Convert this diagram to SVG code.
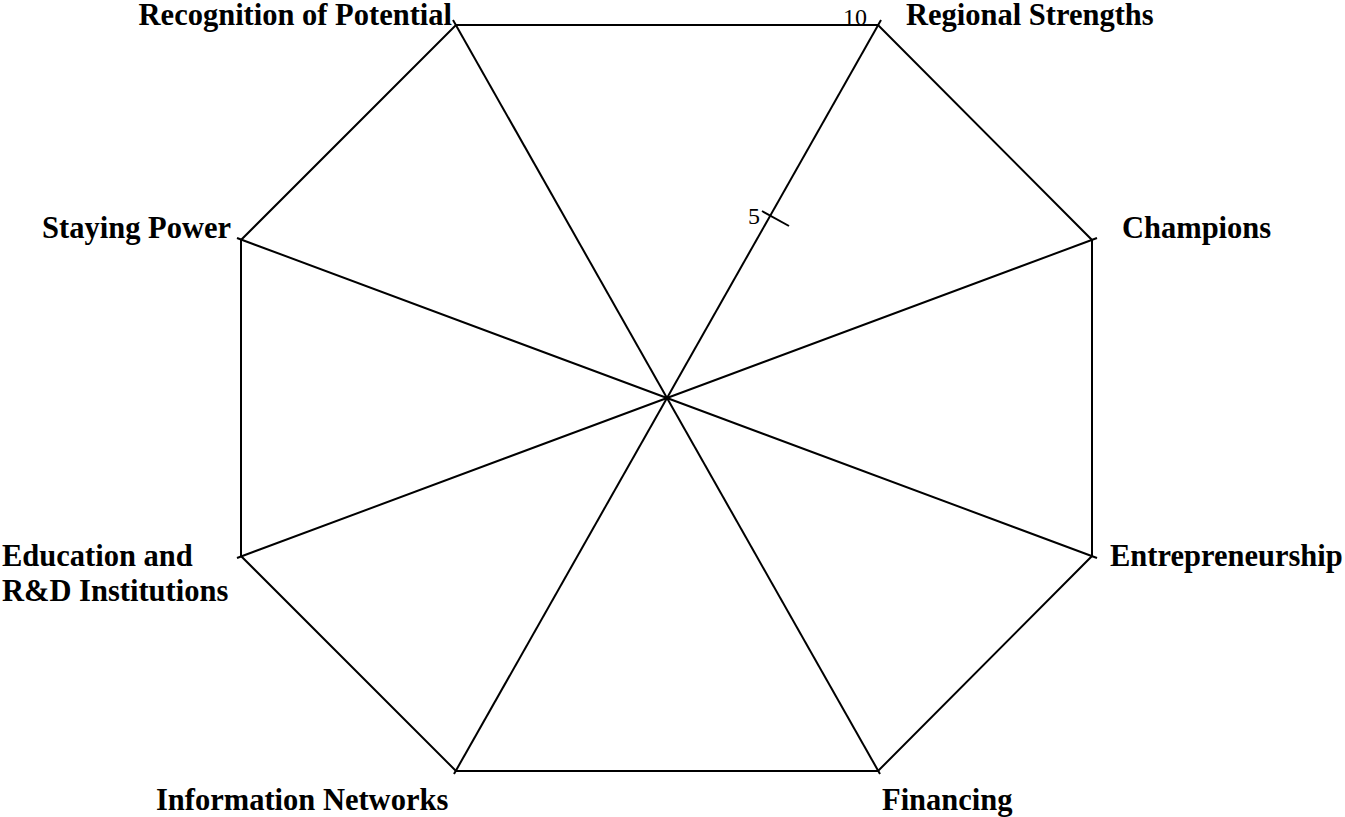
<svg xmlns="http://www.w3.org/2000/svg" width="1345" height="817" viewBox="0 0 1345 817">
  <style>
    .grid { fill: none; stroke: #000; stroke-width: 2; stroke-linecap: butt; stroke-linejoin: miter; }
    .lbl { font-family: "Liberation Serif", "Times New Roman", serif; font-weight: bold; font-size: 30.5px; fill: #000; }
    .num { font-family: "Liberation Serif", "Times New Roman", serif; font-size: 24px; fill: #000; }
  </style>
  <rect width="1345" height="817" fill="#fff"/>

  <!-- radar grid: outer octagon and the eight spokes from the centre (667,398) -->
  <g id="connectors">
    <polygon class="grid" points="456,25 878,25 1092,240 1092,556 878,771 456,771 241,556 241,240"/>
    <line class="grid" x1="667" y1="398" x2="881" y2="20"/>
    <line class="grid" x1="667" y1="398" x2="1097" y2="238"/>
    <line class="grid" x1="667" y1="398" x2="1097" y2="558"/>
    <line class="grid" x1="667" y1="398" x2="880" y2="774"/>
    <line class="grid" x1="667" y1="398" x2="454" y2="774"/>
    <line class="grid" x1="667" y1="398" x2="237" y2="558"/>
    <line class="grid" x1="667" y1="398" x2="237" y2="238"/>
    <line class="grid" x1="667" y1="398" x2="453" y2="20"/>
  </g>

  <!-- value axis on the first spoke -->
  <g id="axis">
    <line class="grid" x1="762" y1="211" x2="789" y2="226"/>
    <text class="num" x="760" y="224" text-anchor="end">5</text>
    <text class="num" x="867" y="25" text-anchor="end">10</text>
  </g>

  <g id="regional-strengths"><text class="lbl" x="906" y="25">Regional Strengths</text></g>
  <g id="champions"><text class="lbl" x="1122" y="238">Champions</text></g>
  <g id="entrepreneurship"><text class="lbl" x="1110" y="566">Entrepreneurship</text></g>
  <g id="financing"><text class="lbl" x="882" y="810">Financing</text></g>
  <g id="information-networks"><text class="lbl" x="156" y="810">Information Networks</text></g>
  <g id="education-rd"><text class="lbl" x="2" y="566">Education and</text><text class="lbl" x="2" y="601">R&amp;D Institutions</text></g>
  <g id="staying-power"><text class="lbl" x="231" y="238" text-anchor="end">Staying Power</text></g>
  <g id="recognition"><text class="lbl" x="452" y="25" text-anchor="end">Recognition of Potential</text></g>
</svg>
